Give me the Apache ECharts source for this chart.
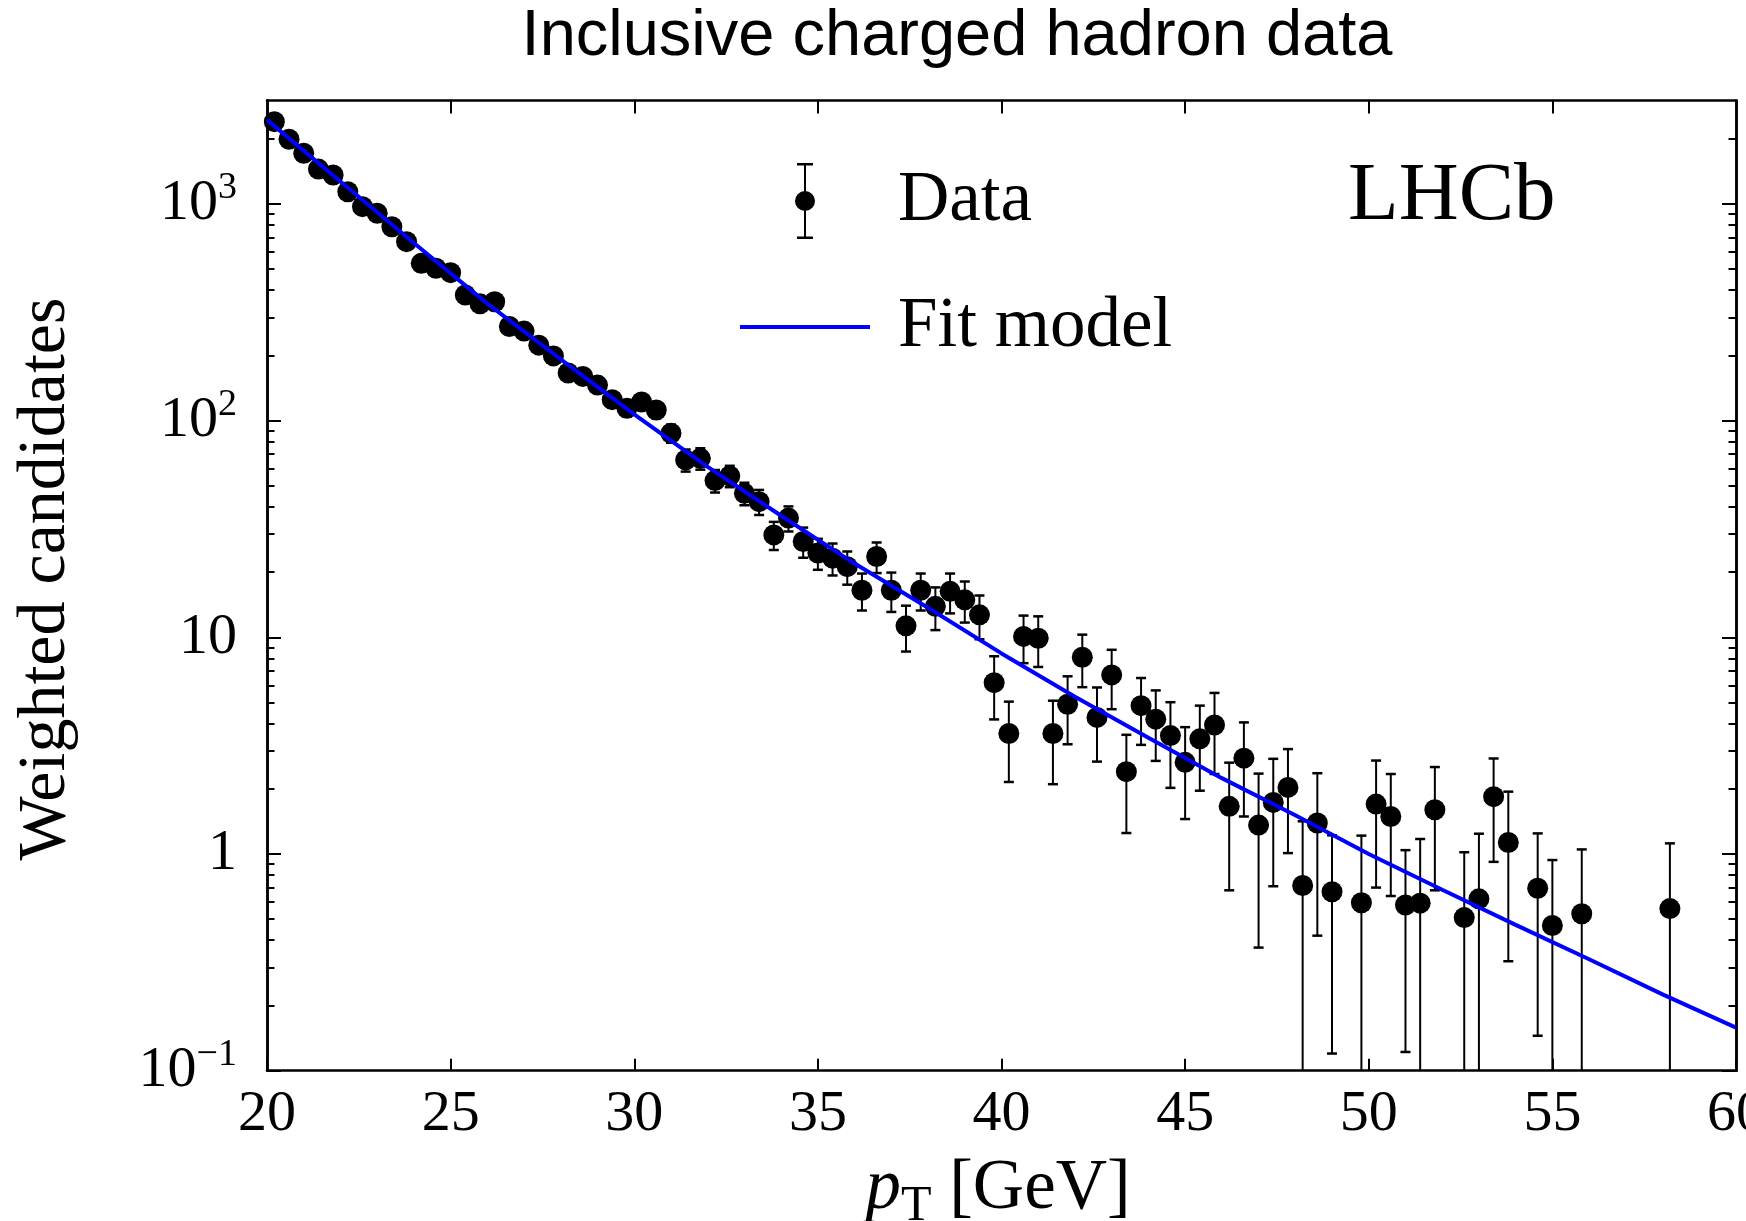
<!DOCTYPE html>
<html>
<head>
<meta charset="utf-8">
<title>Inclusive charged hadron data</title>
<script src="https://cdn.jsdelivr.net/npm/echarts@6/dist/echarts.min.js"></script>
<style>
  html, body { margin: 0; padding: 0; background: #fff; }
  #chart { width: 1746px; height: 1221px; }
</style>
</head>
<body>
<div id="chart"></div>
<script>
// bin centres [GeV]
const ptBins = [
  20.2, 20.6, 21.0, 21.4, 21.8, 22.2, 22.6, 23.0, 23.4, 23.8,
  24.2, 24.6, 25.0, 25.4, 25.8, 26.2, 26.6, 27.0, 27.4, 27.8,
  28.2, 28.6, 29.0, 29.4, 29.8, 30.2, 30.6, 31.0, 31.4, 31.8,
  32.2, 32.6, 33.0, 33.4, 33.8, 34.2, 34.6, 35.0, 35.4, 35.8,
  36.2, 36.6, 37.0, 37.4, 37.8, 38.2, 38.6, 39.0, 39.4, 39.8,
  40.2, 40.6, 41.0, 41.4, 41.8, 42.2, 42.6, 43.0, 43.4, 43.8,
  44.2, 44.6, 45.0, 45.4, 45.8, 46.2, 46.6, 47.0, 47.4, 47.8,
  48.2, 48.6, 49.0,
  49.8, 50.2, 50.6, 51.0, 51.4, 51.8, 52.6, 53.0, 53.4, 53.8,
  54.6, 55.0, 55.8, 58.2
]
// weighted candidates per bin
const dataCounts = [
  2399, 1990, 1714, 1449, 1360, 1139, 972, 906, 785, 670,
  532, 505, 482, 380, 346, 354, 272, 259, 223, 199,
  166, 160, 146, 125, 114, 122, 112, 87.5, 65.9, 67,
  52.9, 55.6, 46.2, 42.3, 29.7, 35.5, 27.7, 24.5, 23.2, 21.2,
  16.5, 23.6, 16.5, 11.3, 16.5, 13.9, 16.3, 14.9, 12.7, 6.18,
  3.6, 10.1, 9.9, 3.6, 4.91, 8.09, 4.27, 6.71, 2.40, 4.84,
  4.19, 3.52, 2.65, 3.40, 3.94, 1.66, 2.77, 1.36, 1.73, 2.03,
  0.716, 1.39, 0.67,
  0.596, 1.70, 1.49, 0.582, 0.593, 1.60, 0.509, 0.621, 1.84, 1.13,
  0.695, 0.468, 0.53, 0.56
]
// error bar half-length
const dataErrors = [
  44, 40, 37, 34, 33, 30, 28, 27, 25, 23,
  21, 20, 20, 18, 17, 17, 15, 14.5, 13.5, 12.7,
  11.6, 11.4, 10.9, 10, 9.6, 10, 9.5, 8.4, 7.7, 7.6,
  6.3, 6.3, 5.5, 5.6, 4.4, 4.7, 4.4, 4.0, 3.9, 3.7,
  3.2, 3.8, 3.4, 2.7, 3.2, 3.1, 3.4, 3.2, 2.9, 2.0,
  1.45, 2.5, 2.6, 1.5, 1.7, 2.2, 1.6, 2.05, 1.15, 1.65,
  1.5, 1.5, 1.2, 1.44, 1.6, 0.98, 1.28, 0.99, 1.02, 1.02,
  0.70, 0.97, 0.55,
  0.62, 1.0, 0.85, 0.46, 0.58, 0.92, 0.51, 0.62, 0.92, 0.81,
  0.55, 0.47, 0.52, 0.56
]
// fit model curve
const fitPt = [20, 22, 24, 26, 28, 30, 32, 34, 36, 38, 40, 42, 44, 46, 48, 50, 52, 54, 56, 58, 60]
const fitValues = [2445, 1270, 661, 347, 192, 107, 61.2, 36.4, 21.9, 13.7, 8.43, 5.32, 3.44, 2.24, 1.51, 1.0, 0.684, 0.471, 0.327, 0.225, 0.158]

// axes
const xTicksTop = [25, 30, 35, 40, 45, 50, 55]
const yMajorTicks = [0.1, 1, 10, 100, 1000]
const yTickLabels = ['{b|10}{sup|−1}', '{b|1}', '{b|10}', '{b|10}{sup|2}', '{b|10}{sup|3}']
const yMinorTicks = [
  0.2, 0.3, 0.4, 0.5, 0.6, 0.7, 0.8, 0.9,
  2, 3, 4, 5, 6, 7, 8, 9,
  20, 30, 40, 50, 60, 70, 80, 90,
  200, 300, 400, 500, 600, 700, 800, 900,
  2000
]
const yMin = 0.1
const yMax = 3000

const serif = 'Liberation Serif'
const black = '#000'
const blue = '#0000ff'

const chart = echarts.init(document.getElementById('chart'))

// y axis builder, so the frame gets ticks on both sides
function yAxisDef (position, ticks, len, withLabels) {
  return {
    type: 'log',
    logBase: 10,
    min: yMin,
    max: yMax,
    position: position,
    splitLine: { show: false },
    axisLine: { show: true, onZero: false, lineStyle: { color: black, width: 2.5 } },
    axisTick: {
      show: true,
      inside: true,
      length: len,
      customValues: ticks,
      lineStyle: { color: black, width: 2 }
    },
    axisLabel: withLabels
      ? {
          show: true,
          margin: 30,
          customValues: yMajorTicks,
          formatter (val) {
            const i = yMajorTicks.findIndex(v => Math.abs(Math.log10(v) - Math.log10(val)) < 1e-6)
            return i >= 0 ? yTickLabels[i] : ''
          },
          rich: {
            b: { fontFamily: serif, fontSize: 58, color: black, lineHeight: 70 },
            sup: { fontFamily: serif, fontSize: 38, color: black, lineHeight: 55, verticalAlign: 'top' }
          }
        }
      : { show: false }
  }
}

// error bars drawn with the data scales
function renderErrorBar (params, api) {
  const x = api.value(0)
  const y = api.value(1)
  const err = api.value(2)
  const cs = params.coordSys
  const bottomPx = cs.y + cs.height
  const up = api.coord([x, y + err])
  const low = y - err
  const lowPx = low > yMin ? api.coord([x, low])[1] : bottomPx
  const cap = 5
  const children = [
    { type: 'line', shape: { x1: up[0], y1: up[1], x2: up[0], y2: lowPx }, style: { stroke: black, lineWidth: 2 } },
    { type: 'line', shape: { x1: up[0] - cap, y1: up[1], x2: up[0] + cap, y2: up[1] }, style: { stroke: black, lineWidth: 2.5 } }
  ]
  if (low > yMin) {
    children.push({ type: 'line', shape: { x1: up[0] - cap, y1: lowPx, x2: up[0] + cap, y2: lowPx }, style: { stroke: black, lineWidth: 2.5 } })
  }
  return { type: 'group', children: children }
}

const points = ptBins.map((x, i) => [x, dataCounts[i]])
const errPoints = ptBins.map((x, i) => [x, dataCounts[i], dataErrors[i]])
const fitLine = fitPt.map((x, i) => [x, fitValues[i]])

// legend icons (error bar with dot, plain line)
const dataIcon = 'path://M2,0 H18 V2.5 H2 Z M9,0 H11 V76 H9 Z M2,73.5 H18 V76 H2 Z M0,38 A10,10 0 1,1 20,38 A10,10 0 1,1 0,38 Z'
const lineIcon = 'path://M0,0 H130 V4 H0 Z'

const option = {
  backgroundColor: '#fff',
  animation: false,
  title: {
    text: 'Inclusive charged hadron data',
    left: 957,
    top: 2,
    padding: 0,
    textAlign: 'center',
    textStyle: {
      fontFamily: 'Liberation Sans',
      fontSize: 65,
      fontWeight: 'normal',
      color: black,
      lineHeight: 70
    }
  },
  legend: {
    orient: 'vertical',
    left: 740,
    top: 163,
    padding: 0,
    itemWidth: 130,
    itemHeight: 76,
    itemGap: 50,
    selectedMode: false,
    textStyle: {
      fontFamily: serif,
      fontSize: 71,
      color: black,
      lineHeight: 76,
      padding: [0, 0, 0, 23]
    },
    data: [
      { name: 'Data', icon: dataIcon, itemStyle: { color: black, opacity: 1 } },
      { name: 'Fit model', icon: lineIcon, itemStyle: { color: blue } }
    ]
  },
  grid: {
    left: 267,
    right: 10,
    top: 100.6,
    bottom: 150.3,
    outerBoundsMode: 'none',
    containLabel: false
  },
  xAxis: [
    {
      type: 'value',
      min: 20,
      max: 60,
      interval: 5,
      position: 'bottom',
      splitLine: { show: false },
      axisLine: { show: true, onZero: false, lineStyle: { color: black, width: 2.5 } },
      axisTick: { show: true, inside: true, length: 12, lineStyle: { color: black, width: 2 } },
      axisLabel: {
        show: true,
        margin: 9,
        fontFamily: serif,
        fontSize: 58,
        color: black,
        lineHeight: 70,
        showMinLabel: true,
        showMaxLabel: true,
        hideOverlap: false
      }
    },
    {
      type: 'value',
      min: 20,
      max: 60,
      position: 'top',
      splitLine: { show: false },
      axisLine: { show: true, onZero: false, lineStyle: { color: black, width: 2.5 } },
      axisTick: { show: true, inside: true, length: 13, customValues: xTicksTop, lineStyle: { color: black, width: 2 } },
      axisLabel: { show: false }
    }
  ],
  yAxis: [
    yAxisDef('left', yMajorTicks, 14, true),
    yAxisDef('left', yMinorTicks, 7.5, false),
    yAxisDef('right', yMajorTicks, 14, false),
    yAxisDef('right', yMinorTicks, 7.5, false)
  ],
  graphic: [
    {
      type: 'text',
      x: 1348,
      y: 197,
      style: {
        text: 'LHCb',
        fontFamily: serif,
        fontSize: 83,
        fill: black,
        textAlign: 'left',
        textVerticalAlign: 'middle'
      }
    },
    {
      type: 'text',
      x: 46,
      y: 579,
      rotation: Math.PI / 2,
      style: {
        text: 'Weighted candidates',
        fontFamily: serif,
        fontSize: 68,
        fill: black,
        textAlign: 'center',
        textVerticalAlign: 'middle'
      }
    },
    {
      type: 'text',
      x: 998,
      y: 1189,
      style: {
        text: '{i|p}{sub|T}{n| [GeV]}',
        textAlign: 'center',
        textVerticalAlign: 'middle',
        rich: {
          i: { fontFamily: serif, fontStyle: 'italic', fontSize: 71, fill: black, lineHeight: 86 },
          sub: { fontFamily: serif, fontSize: 50, fill: black, lineHeight: 38, verticalAlign: 'bottom' },
          n: { fontFamily: serif, fontSize: 71, fill: black, lineHeight: 86 }
        }
      }
    }
  ],
  series: [
    {
      name: 'Data',
      type: 'custom',
      xAxisIndex: 0,
      yAxisIndex: 0,
      renderItem: renderErrorBar,
      encode: { x: 0, y: 1 },
      color: black,
      itemStyle: { color: black },
      data: errPoints,
      z: 2,
      silent: true
    },
    {
      name: 'Data',
      type: 'scatter',
      xAxisIndex: 0,
      yAxisIndex: 0,
      symbol: 'circle',
      symbolSize: 21,
      color: black,
      itemStyle: { color: black, opacity: 1 },
      data: points,
      z: 3
    },
    {
      name: 'Fit model',
      type: 'line',
      xAxisIndex: 0,
      yAxisIndex: 0,
      smooth: false,
      showSymbol: false,
      color: blue,
      lineStyle: { color: blue, width: 4 },
      data: fitLine,
      z: 4
    }
  ]
}

chart.setOption(option)
</script>
</body>
</html>
